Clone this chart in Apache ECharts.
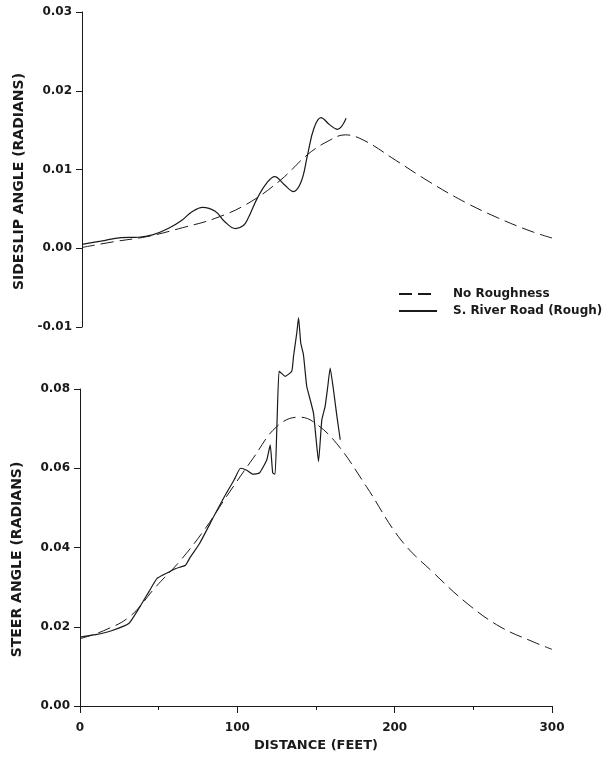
<!DOCTYPE html>
<html lang="en">
<head>
    <meta charset="utf-8">
    <title>Sideslip and steer angle vs distance</title>
    <script src="https://cdn.jsdelivr.net/npm/echarts@6/dist/echarts.min.js"></script>
</head>
<body style="margin:0;background:#fff;">

<div id="main" style="width: 611px;height:764px;"></div>

<script>
    // 数据：[距离(ft), 角度(rad)]
    var sideslipSmooth = [
        [0, 0.0001], [21, 0.00085], [42, 0.0015], [64, 0.0026], [85, 0.0038], [106, 0.0057],
        [127, 0.0087], [144, 0.0119], [157, 0.0136], [168, 0.0144], [180, 0.0137], [200, 0.0112],
        [222, 0.0084], [244, 0.0059], [265, 0.0039], [286, 0.0022], [300, 0.0013]
    ];
    var sideslipRough = [
        [0, 0.0005], [12, 0.0009], [25, 0.00135], [36, 0.0014], [45, 0.0017], [55, 0.0025],
        [64, 0.0036], [70, 0.0046], [77, 0.0052], [85, 0.0047], [91, 0.0034], [98, 0.0025],
        [103, 0.0029], [106, 0.0038], [112, 0.0064], [118, 0.0083], [123, 0.0091], [129, 0.0081],
        [135, 0.0072], [140, 0.0085], [144, 0.0119], [148, 0.0152], [152.5, 0.0166], [158, 0.0157],
        [163, 0.0151], [168.6, 0.0165]
    ];
    var steerSmooth = [
        [0, 0.0170], [15, 0.0190], [32, 0.0227], [48, 0.0300], [64, 0.0368], [80, 0.0450],
        [93, 0.0528], [110, 0.0625], [125, 0.0705], [139, 0.0729], [148, 0.0718], [163, 0.0663],
        [182, 0.0554], [204, 0.0419], [225, 0.0335], [246, 0.0259], [267, 0.0200], [288, 0.0162],
        [300, 0.0143]
    ];
    var steerRough = [
        [0, 0.0174], [10, 0.0180], [20, 0.0190], [31, 0.0208], [38, 0.0250], [44, 0.0290],
        [49, 0.0322], [55, 0.0335], [61, 0.0347], [67, 0.0355], [70, 0.0375], [76, 0.0410],
        [85, 0.0478], [92, 0.0530], [98, 0.0571], [102, 0.0600], [106, 0.0595], [110, 0.0585],
        [114, 0.0588], [118.7, 0.0621], [120.9, 0.0659], [122.5, 0.0588], [124, 0.0585],
        [125.2, 0.0714], [126.5, 0.0845], [128, 0.0840], [130.4, 0.0832], [134.6, 0.0845],
        [135.7, 0.0882], [137.8, 0.0942], [138.9, 0.0980], [140.3, 0.0916], [142, 0.0887],
        [144.1, 0.0807], [146.3, 0.0773], [148.4, 0.0739], [150.1, 0.0672], [151.6, 0.0617],
        [153.7, 0.0722], [155.8, 0.0756], [157.5, 0.0807], [159, 0.0853], [161.1, 0.0798],
        [163.3, 0.0731], [165.4, 0.0672]
    ];
    var seriesNames = ['No Roughness', 'S. River Road (Rough)'];
    var distanceTicks = [0, 100, 200, 300];

    var ink = '#1a1a1a';
    var font = 'DejaVu Sans';

    var myChart = echarts.init(document.getElementById('main'));

    function yAxisOf(grid, name, min, max) {
        return {
            gridIndex: grid,
            type: 'value',
            min: min,
            max: max,
            interval: 0.01 * (grid === 0 ? 1 : 2),
            name: name,
            nameLocation: 'middle',
            nameGap: 56,
            nameTextStyle: {color: ink, fontFamily: font, fontWeight: 'bold', fontSize: 14, padding: [0, 24, 0, 0]},
            axisLine: {show: true, lineStyle: {color: ink, width: 1}},
            axisTick: {show: true, inside: false, length: 6, lineStyle: {color: ink}},
            axisLabel: {
                color: ink, fontFamily: font, fontWeight: 'bold', fontSize: 12, margin: 10,
                formatter: function (v) { return v.toFixed(2); }
            },
            splitLine: {show: false}
        };
    }

    function lineSeries(name, grid, data, dashed, smooth) {
        return {
            name: name,
            type: 'line',
            xAxisIndex: grid,
            yAxisIndex: grid,
            data: data,
            symbol: 'none',
            smooth: smooth,
            clip: false,
            lineStyle: {color: ink, width: dashed ? 1 : 1.2, type: dashed ? [13, 6] : 'solid'},
            itemStyle: {color: ink}
        };
    }

    var option = {
        animation: false,
        backgroundColor: '#fff',
        grid: [
            {left: 82, right: 59, top: 12, bottom: 437},
            {left: 80, right: 59, top: 389, bottom: 58}
        ],
        legend: {
            data: seriesNames,
            orient: 'vertical',
            left: 393,
            top: 283,
            itemWidth: 38,
            itemHeight: 10,
            itemGap: 5,
            itemStyle: {opacity: 0},
            textStyle: {color: ink, fontFamily: font, fontWeight: 'bold', fontSize: 12, padding: [0, 0, 0, 11]}
        },
        xAxis: [
            {gridIndex: 0, type: 'value', min: 0, max: 300, show: false},
            {
                gridIndex: 1,
                type: 'value',
                min: 0,
                max: 300,
                interval: 100,
                name: 'DISTANCE (FEET)',
                nameLocation: 'middle',
                nameGap: 33,
                nameTextStyle: {color: ink, fontFamily: font, fontWeight: 'bold', fontSize: 13},
                axisLine: {show: true, lineStyle: {color: ink, width: 1}},
                axisTick: {show: true, inside: false, length: 7, lineStyle: {color: ink}},
                minorTick: {show: true, splitNumber: 2, length: 4, lineStyle: {color: ink}},
                axisLabel: {
                    color: ink, fontFamily: font, fontWeight: 'bold', fontSize: 12, margin: 16,
                    customValues: distanceTicks
                },
                splitLine: {show: false}
            }
        ],
        yAxis: [
            yAxisOf(0, 'SIDESLIP ANGLE (RADIANS)', -0.01, 0.03),
            yAxisOf(1, 'STEER ANGLE (RADIANS)', 0, 0.08)
        ],
        series: [
            lineSeries(seriesNames[0], 0, sideslipSmooth, true, 0.4),
            lineSeries(seriesNames[1], 0, sideslipRough, false, 0.4),
            lineSeries(seriesNames[0], 1, steerSmooth, true, 0.4),
            lineSeries(seriesNames[1], 1, steerRough, false, 0.15)
        ]
    };

    myChart.setOption(option);
</script>
</body>
</html>
